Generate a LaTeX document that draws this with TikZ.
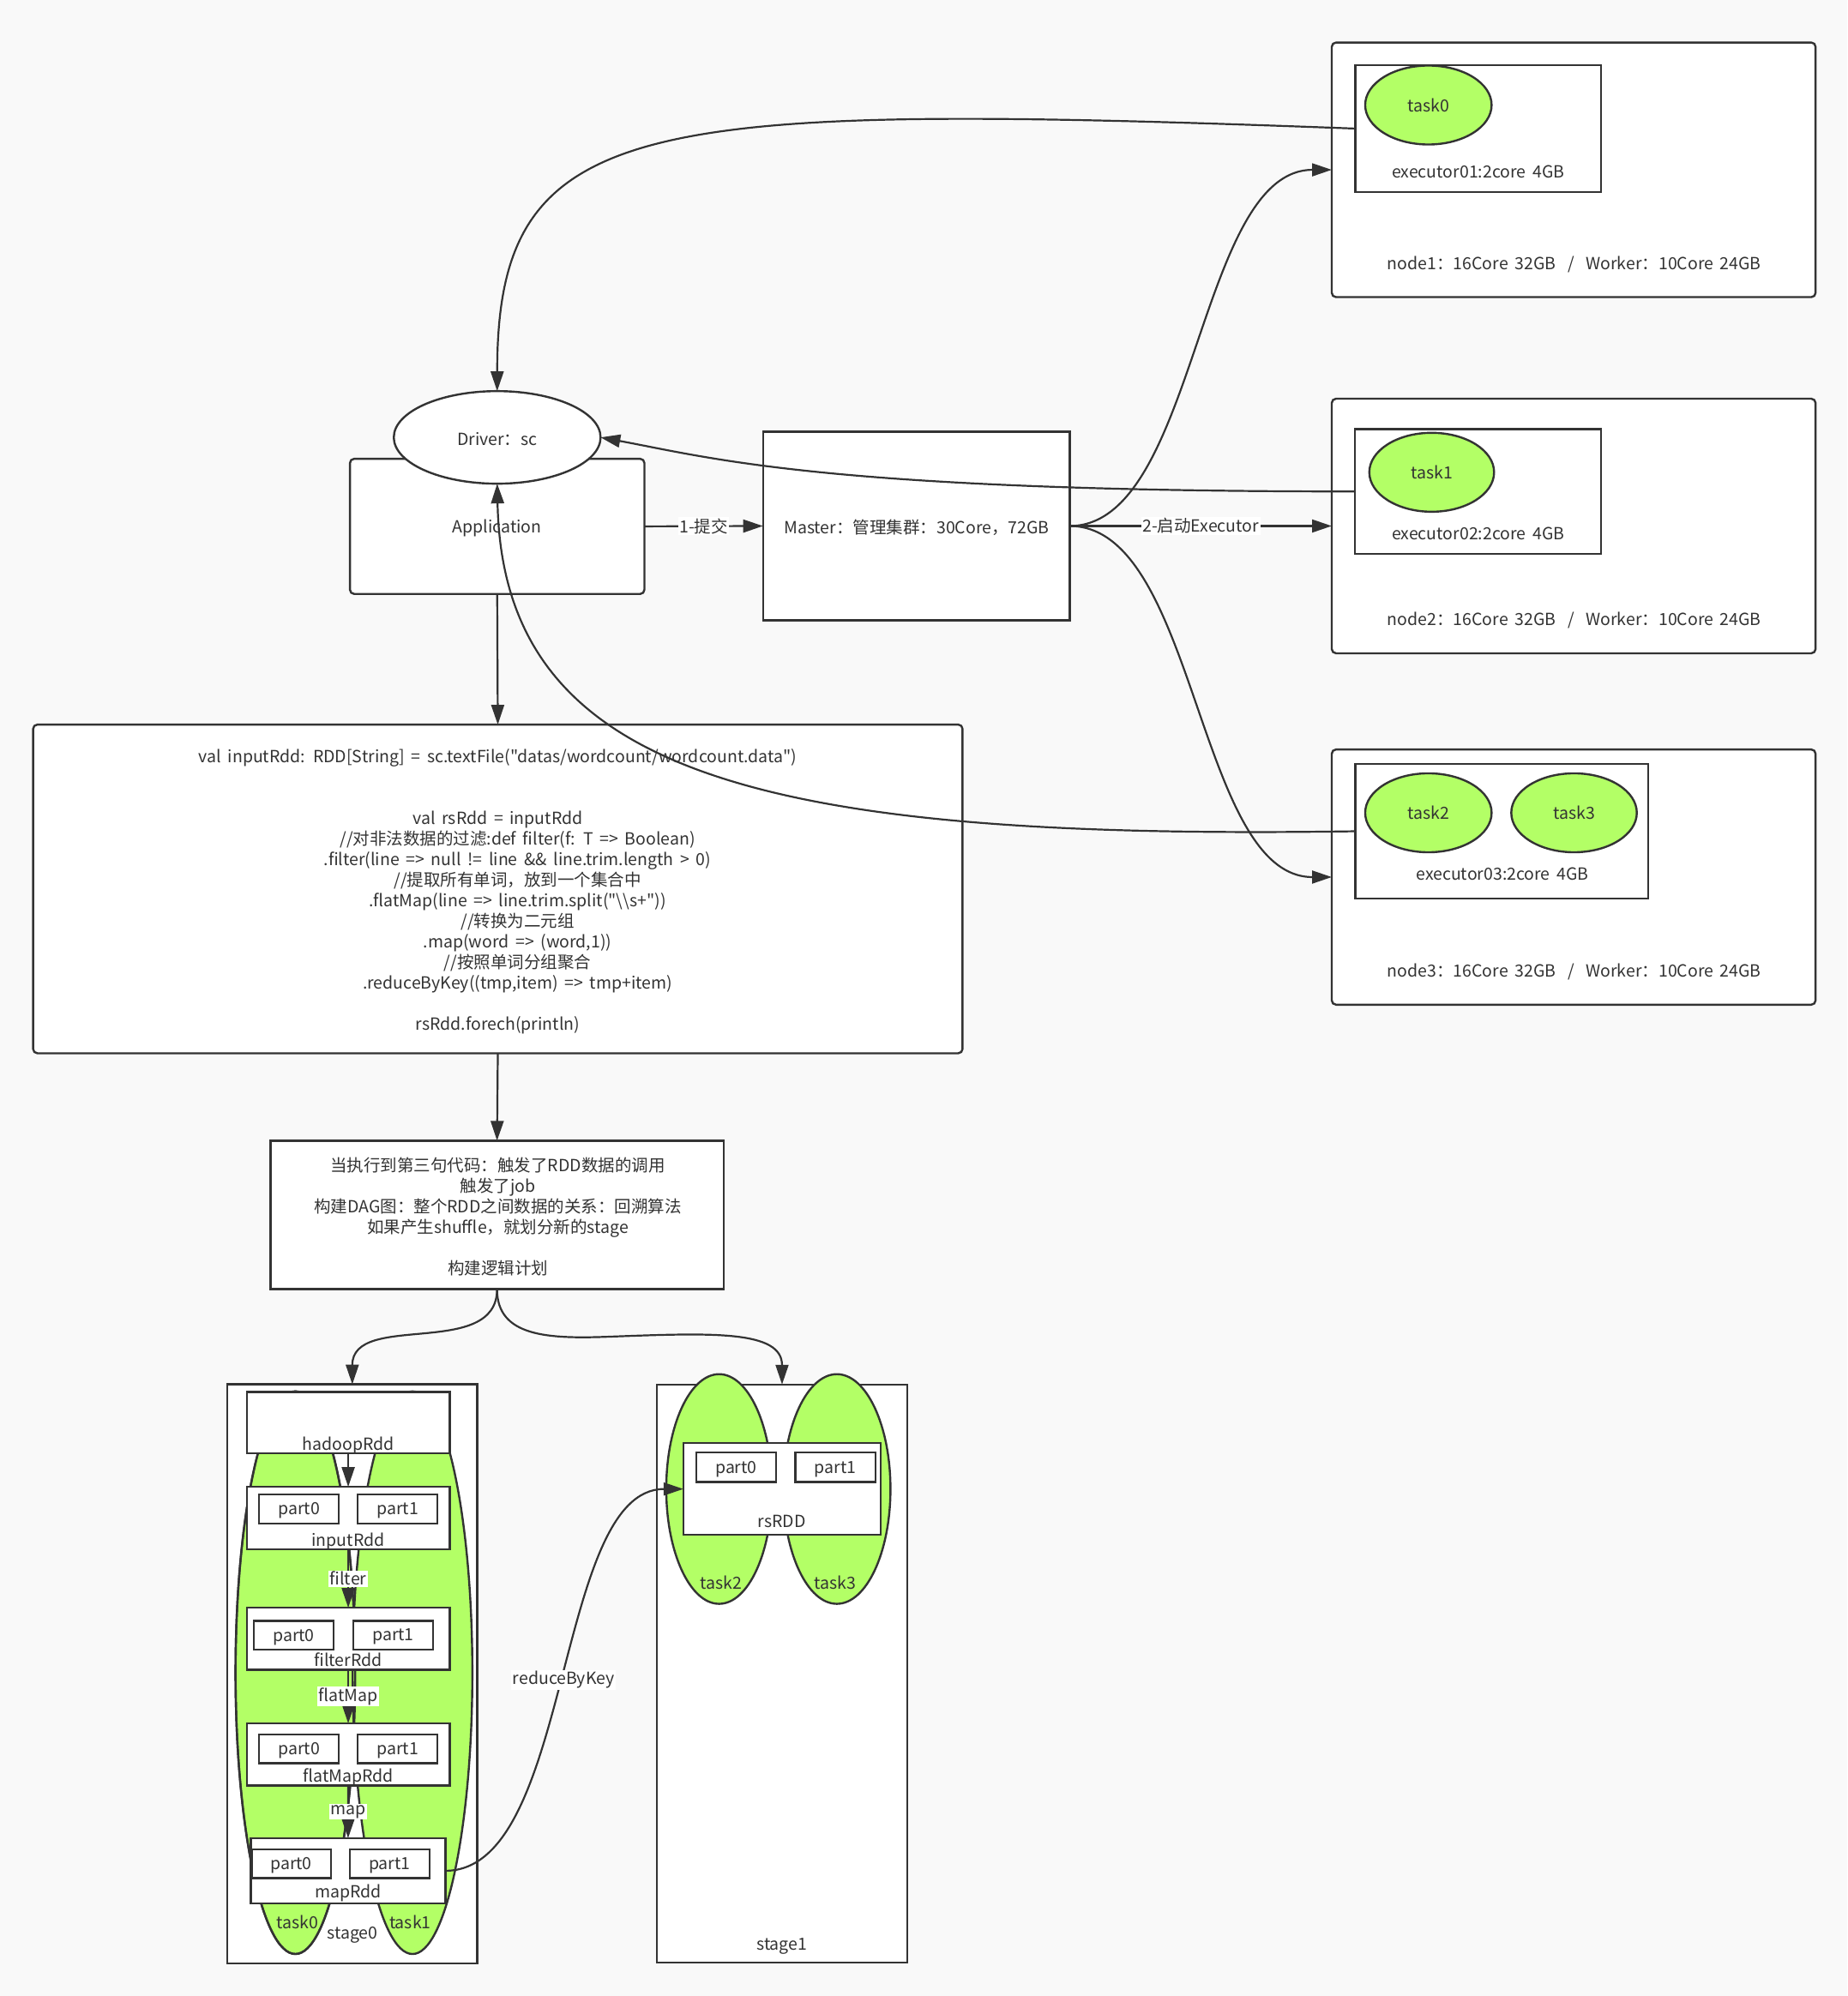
\documentclass[tikz,border=0pt]{standalone}
\usepackage{fontspec}
\setmainfont{Noto Sans CJK SC}[Ligatures=TeXOff, WordSpace=1.75]
\usetikzlibrary{arrows.meta,shapes.geometric}
\definecolor{bg}{HTML}{F9F9F9}
\definecolor{ln}{HTML}{333333}
\definecolor{tg}{HTML}{B3FF66}
\def\U{1.4845pt}
\newcommand{\wsep}{\hspace{0.7em}/\hspace{0.7em}}
\begin{document}
\begin{tikzpicture}[x=1.4845pt,y=-1.4845pt,
  font=\fontsize{19.5pt}{24pt}\selectfont, text=ln,
  sz/.style 2 args={minimum width=#1*\U, minimum height=#2*\U},
  box/.style={draw=ln, fill=white, line width=2.4pt, inner sep=0pt, outer sep=0pt},
  rbox/.style={box, rounded corners=5pt},
  ell/.style={box, ellipse},
  gell/.style={box, ellipse, fill=tg},
  txt/.style={inner sep=0pt, outer sep=0pt},
  ptxt/.style={txt, yshift=-2pt},
  lbl/.style={fill=white, inner sep=1.5pt},
  edge/.style={draw=ln, line width=2.2pt, -{Triangle[length=23pt,width=15pt]}}]
\useasboundingbox (0,0) rectangle (1451,1568);
\fill[bg] (0,0) rectangle (1451,1568);

% ---------- worker nodes ----------
\node[rbox, sz={380}{200}] (node1) at (1236,133.4) {};
\node[box, sz={192.8}{99.7}] (exe1) at (1160.9,101) {};
\node[gell, sz={99.3}{62}] (t0) at (1121.9,82.5) {task0};
\node[txt] (exe1t) at (1161,134.7) {executor01:2core 4GB};
\node[txt] (node1t) at (1236.5,207.7) {node1：16Core 32GB\wsep Worker：10Core 24GB};

\node[rbox, sz={380}{200}] (node2) at (1236,413.2) {};
\node[box, sz={193}{98}] (exe2) at (1160.8,386.1) {};
\node[gell, sz={98}{62}] (t1) at (1124.5,371) {task1};
\node[txt] (exe2t) at (1161,419.5) {executor02:2core 4GB};
\node[txt] (node2t) at (1236.5,487.5) {node2：16Core 32GB\wsep Worker：10Core 24GB};

\node[rbox, sz={380}{200.5}] (node3) at (1236,689) {};
\node[box, sz={230.2}{105.6}] (exe3) at (1179.6,653) {};
\node[gell, sz={99.3}{62}] (t2) at (1121.9,638.5) {task2};
\node[gell, sz={98.6}{62}] (t3) at (1236.3,638.5) {task3};
\node[txt] (exe3t) at (1180,686.4) {executor03:2core 4GB};
\node[txt] (node3t) at (1236.5,763.4) {node3：16Core 32GB\wsep Worker：10Core 24GB};

% ---------- driver side ----------
\node[rbox, sz={231.3}{106.2}] (app) at (390.5,413.5) {};
\node[txt] (appt) at (390.5,415) {Application};
\node[ell, sz={162.4}{72.7}] (driver) at (390.5,343.6) {};
\node[txt] (drivert) at (390.5,344.7) {Driver：sc};
\node[box, sz={240.9}{148.3}] (master) at (719.7,413.2) {};
\node[txt] (mastert) at (720,414.5) {Master：管理集群：30Core，72GB};

\node[rbox, sz={730}{258.2}] (code) at (391,698.3) {};
\node[txt, align=center] (codet) at (391,700.5) {val inputRdd: RDD[String] = sc.textFile("datas/wordcount/wordcount.data")\\[48pt]
val rsRdd = inputRdd\\
\hspace*{46pt}//对非法数据的过滤:def filter(f: T => Boolean)\\
\hspace*{46pt}.filter(line => null != line \&\& line.trim.length > 0)\\
\hspace*{46pt}//提取所有单词，放到一个集合中\\
\hspace*{46pt}.flatMap(line => line.trim.split("\textbackslash\textbackslash s+"))\\
\hspace*{46pt}//转换为二元组\\
\hspace*{46pt}.map(word => (word,1))\\
\hspace*{46pt}//按照单词分组聚合\\
\hspace*{46pt}.reduceByKey((tmp,item) => tmp+item)\\[24pt]
rsRdd.forech(println)};

\node[box, sz={356}{116.7}] (job) at (390.4,954.4) {};
\node[txt, align=center] (jobt) at (391,956) {当执行到第三句代码：触发了RDD数据的调用\\触发了job\\构建DAG图：整个RDD之间数据的关系：回溯算法\\如果产生shuffle，就划分新的stage\\[24pt]构建逻辑计划};

% ---------- stage0 ----------
\node[box, sz={196.5}{455}] (stage0) at (276.7,1315) {};
\node[gell, sz={94}{442}] (st0) at (232,1314) {};
\node[gell, sz={94}{442}] (st1) at (324,1314) {};
\draw[ln, line width=2.4pt] (st0.center) ellipse [x radius=47, y radius=221];
\node[txt, anchor=base] (st0t) at (233.5,1515.4) {task0};
\node[txt, anchor=base] (st1t) at (322.2,1515.4) {task1};
\node[txt, anchor=base] (stage0t) at (276.9,1522.9) {stage0};

\node[box, sz={159.4}{48}] (hadoop) at (273.5,1117.5) {};
\node[txt, anchor=base] (hadoopt) at (273.5,1139.3) {hadoopRdd};
\node[box, sz={159.4}{49}] (input) at (273.5,1192.5) {};
\node[box, sz={62.6}{22.8}] (inp0) at (234.8,1185.5) {};
\node[ptxt] (inp0t) at (inp0) {part0};
\node[box, sz={62.6}{22.8}] (inp1) at (312.3,1185.5) {};
\node[ptxt] (inp1t) at (inp1) {part1};
\node[txt, anchor=base] (inputt) at (273.5,1214.4) {inputRdd};
\node[box, sz={159.4}{48.8}] (filterR) at (273.5,1287.4) {};
\node[box, sz={62.6}{22.8}] (fip0) at (230.7,1284.6) {};
\node[ptxt] (fip0t) at (fip0) {part0};
\node[box, sz={62.6}{22.8}] (fip1) at (308.8,1284.6) {};
\node[ptxt] (fip1t) at (fip1) {part1};
\node[txt, anchor=base] (filtert) at (273.5,1309.2) {filterRdd};
\node[box, sz={159.4}{48.7}] (flatR) at (273.5,1378.2) {};
\node[box, sz={62.6}{22.8}] (fmp0) at (234.8,1373.8) {};
\node[ptxt] (fmp0t) at (fmp0) {part0};
\node[box, sz={62.6}{22.8}] (fmp1) at (312.3,1373.8) {};
\node[ptxt] (fmp1t) at (fmp1) {part1};
\node[txt, anchor=base] (flatt) at (273.5,1399.8) {flatMapRdd};
\node[box, sz={152.9}{51.1}] (mapR) at (273.4,1469.6) {};
\node[box, sz={62.2}{22.6}] (mpp0) at (228.7,1464.1) {};
\node[ptxt] (mpp0t) at (mpp0) {part0};
\node[box, sz={62.6}{22.6}] (mpp1) at (306,1464.1) {};
\node[ptxt] (mpp1t) at (mpp1) {part1};
\node[txt, anchor=base] (mapt) at (273.5,1491.1) {mapRdd};

% ---------- stage1 ----------
\node[box, sz={196.5}{454}] (stage1) at (614.25,1314.6) {};
\node[gell, sz={83}{180.4}] (st2) at (564.8,1169.7) {};
\node[gell, sz={84.2}{180.4}] (st3) at (657.3,1169.7) {};
\node[box, sz={155}{72.2}] (rsRDD) at (614.2,1169.7) {};
\node[box, sz={62.8}{23.1}] (rsp0) at (578.2,1152.7) {};
\node[ptxt] (rsp0t) at (rsp0) {part0};
\node[box, sz={62.8}{23.1}] (rsp1) at (656.1,1152.7) {};
\node[ptxt] (rsp1t) at (rsp1) {part1};
\node[txt, anchor=base] (rst) at (614.1,1200.2) {rsRDD};
\node[txt, anchor=base] (st2t) at (566.3,1248.5) {task2};
\node[txt, anchor=base] (st3t) at (656.1,1248.5) {task3};
\node[txt, anchor=base] (stage1t) at (614.1,1531.8) {stage1};

% ---------- connectors ----------
\draw[edge] (app.south) -- (code.north);
\draw[edge] (code.south) -- (job.north);
\draw[edge] (app.east) -- node[lbl] {1-提交} (master.west);
\draw[edge] (master.east) -- node[lbl] {2-启动Executor} (node2.west);
\draw[edge] (master.east) .. controls (940,413.2) and (940,133.4) .. (node1.west);
\draw[edge] (master.east) .. controls (940,413.2) and (940,689) .. (node3.west);
\draw[edge] (exe1.west) .. controls (500,80) and (390.5,90) .. (driver.north);
\draw[edge] (exe2.west) .. controls (650,386) and (560,360) .. (driver.east);
\draw[edge] (exe3.west) .. controls (600,660) and (395,610) .. (driver.south);

\draw[edge] (job.south) .. controls (390.4,1068) and (276.7,1030) .. (stage0.north);
\draw[edge] (job.south) .. controls (390.4,1050) and (430,1052) .. (480,1050)
  .. controls (560,1047) and (614.25,1045) .. (stage1.north);

\draw[edge] (hadoop.south) -- (input.north);
\draw[edge] (input.south) -- node[lbl] {filter} (filterR.north);
\draw[edge] (filterR.south) -- node[lbl] {flatMap} (flatR.north);
\draw[edge] (flatR.south) -- node[lbl] {map} (mapR.north);
\draw[edge] (mapR.east) .. controls (450,1469.6) and (435,1169.7) .. node[lbl, pos=0.5] {reduceByKey} (rsRDD.west);
\end{tikzpicture}
\end{document}
